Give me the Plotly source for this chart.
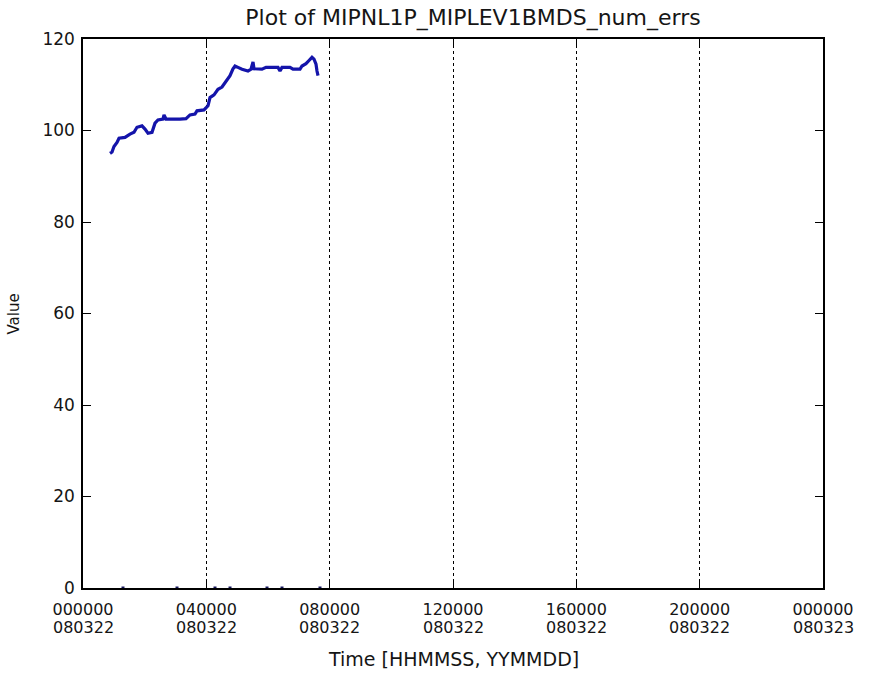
import plotly.graph_objects as go

# time in hours since 000000 080322
hours = [0.876, 0.941, 1.005, 1.103, 1.168, 1.362, 1.524, 1.654, 1.751, 1.913,
         2.011, 2.108, 2.238, 2.335, 2.432, 2.595, 2.627, 2.692, 3.146, 3.341,
         3.470, 3.632, 3.697, 3.924, 4.054, 4.119, 4.249, 4.378, 4.508, 4.638,
         4.768, 4.865, 4.930, 5.027, 5.157, 5.351, 5.449, 5.514, 5.546, 5.805,
         5.935, 6.324, 6.389, 6.454, 6.714, 6.811, 7.038, 7.103, 7.232, 7.330,
         7.427, 7.492, 7.557, 7.589, 7.622]
values = [95.0, 95.3, 96.5, 97.4, 98.3, 98.5, 99.2, 99.6, 100.7, 101.0,
          100.3, 99.4, 99.6, 101.6, 102.3, 102.5, 103.4, 102.5, 102.5, 102.6,
          103.4, 103.6, 104.3, 104.5, 105.4, 107.2, 107.8, 109.0, 109.5, 110.7,
          112.0, 113.5, 114.1, 113.8, 113.4, 113.0, 113.4, 115.0, 113.5, 113.4,
          113.8, 113.8, 113.0, 113.8, 113.8, 113.4, 113.4, 114.1, 114.6, 115.3,
          116.0, 115.6, 114.5, 113.0, 112.0]

zero_hours = [1.297, 3.049, 4.281, 4.768, 5.968, 6.454, 7.686]
zero_values = [0, 0, 0, 0, 0, 0, 0]

tick_hours = [0, 4, 8, 12, 16, 20, 24]
tick_times = ["000000", "040000", "080000", "120000", "160000", "200000", "000000"]
tick_dates = ["080322", "080322", "080322", "080322", "080322", "080322", "080323"]
y_ticks = [0, 20, 40, 60, 80, 100, 120]

blue = "rgb(20,20,170)"
font = "DejaVu Sans, Verdana, sans-serif"
txt = "#151515"

fig = go.Figure()
fig.add_trace(go.Scatter(x=hours, y=values, mode="lines",
                         line=dict(color=blue, width=3.2), showlegend=False))
fig.add_trace(go.Scatter(x=zero_hours, y=zero_values, mode="markers",
                         marker=dict(color="rgb(20,20,90)", size=3, symbol="square"),
                         showlegend=False, cliponaxis=False))

# second row of x tick labels (dates)
for h, d in zip(tick_hours, tick_dates):
    fig.add_annotation(x=h, xref="x", y=0, yref="paper", text=d, showarrow=False,
                       xanchor="center", yanchor="middle", yshift=-39,
                       font=dict(family=font, size=16, color=txt))

# axis titles
fig.add_annotation(x=0.5, xref="paper", y=0, yref="paper", text="Time [HHMMSS, YYMMDD]",
                   showarrow=False, xanchor="center", yanchor="middle", yshift=-71,
                   font=dict(family=font, size=19, color=txt))
fig.add_annotation(x=0, xref="paper", y=0.5, yref="paper", text="Value", textangle=-90,
                   showarrow=False, xanchor="center", yanchor="middle", xshift=-70,
                   yshift=-1, font=dict(family=font, size=15, color=txt))

fig.update_layout(
    width=873, height=675,
    margin=dict(l=83, r=50, t=39, b=87),
    paper_bgcolor="white", plot_bgcolor="white",
    font=dict(family=font, size=17, color=txt),
    title=dict(text="Plot of MIPNL1P_MIPLEV1BMDS_num_errs", x=473 / 873, xanchor="center",
               xref="container", y=1 - 17 / 675, yref="container", yanchor="middle",
               font=dict(size=22, color=txt)),
    xaxis=dict(range=[0, 24], tickvals=tick_hours, ticktext=tick_times,
               automargin=False, ticklabelstandoff=6, tickfont=dict(size=16),
               showgrid=True, gridcolor="black", griddash="dot", gridwidth=1.3,
               showline=True, linecolor="black", linewidth=1.5, mirror="ticks",
               ticks="inside", ticklen=8, tickcolor="black",
               zeroline=False),
    yaxis=dict(range=[0, 120], tickvals=y_ticks, automargin=False,
               ticklabelstandoff=3,
               showgrid=False, showline=True, linecolor="black", linewidth=1.5,
               mirror="ticks", ticks="inside", ticklen=8, tickcolor="black",
               zeroline=False),
)

fig.write_html("out.html", config={"displayModeBar": False},
               post_script="document.body.style.margin='0px';")
